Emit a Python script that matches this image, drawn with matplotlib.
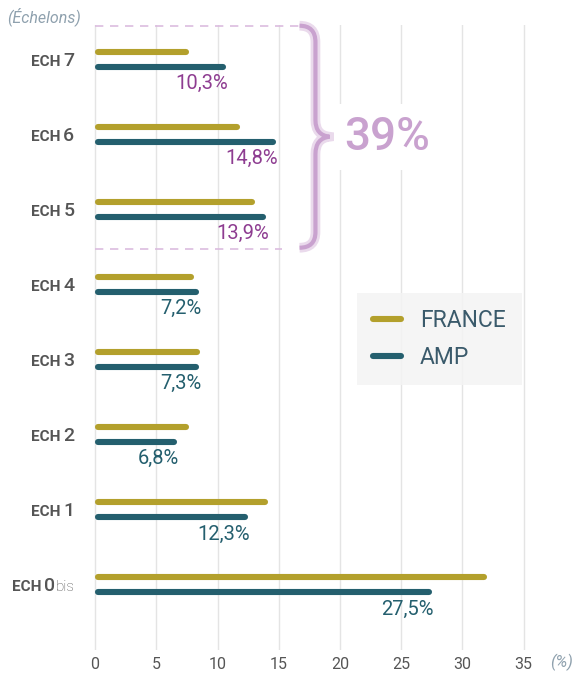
import matplotlib
matplotlib.use("Agg")
import matplotlib.pyplot as plt
from matplotlib.lines import Line2D
from matplotlib.path import Path
from matplotlib.patches import PathPatch
from matplotlib.transforms import offset_copy

plt.rcParams['font.family'] = ['Roboto', 'DejaVu Sans']

# donnees (de ECH 0bis a ECH 7)
echelons = ['0', '1', '2', '3', '4', '5', '6', '7']
suffixes = ['bis', '', '', '', '', '', '', '']
france = [32.0, 14.1, 7.7, 8.6, 8.1, 13.1, 11.8, 7.7]
amp = [27.5, 12.5, 6.7, 8.5, 8.5, 14.0, 14.8, 10.7]
amp_labels = ['27,5%', '12,3%', '6,8%', '7,3%', '7,2%', '13,9%', '14,8%', '10,3%']
groupe_haut = ['5', '6', '7']   # echelons regroupes dans l'accolade
total_haut = '39%'
xticks = [0, 5, 10, 15, 20, 25, 30, 35]

c_france = '#b3a02c'
c_amp = '#245f6e'
c_violet = '#8e3d91'
c_lilas = '#c9a2cf'
c_gris = '#555555'
c_note = '#8fa1ae'

fig = plt.figure(figsize=(5.72, 6.73), dpi=100)
ax = fig.add_axes([0.1556, 0.0342, 0.8025, 0.9287])
ax.set_xlim(-0.5, 37)
ax.set_ylim(-0.873, 7.46)

for s in ax.spines.values():
    s.set_visible(False)
ax.set_xticks(xticks)
ax.set_yticks([])
ax.tick_params(axis='x', length=0, pad=5, labelsize=11.5, labelcolor=c_gris)
ax.grid(axis='x', color='#e4e4e4', linewidth=1)
ax.set_axisbelow(True)

lw = 4.4
cap = 0.25  # demi-epaisseur du trait en unites x
dy = 0.094
for i in range(len(echelons)):
    ax.plot([cap, france[i] - cap], [i + dy, i + dy], color=c_france, lw=lw,
            solid_capstyle='round', zorder=3)
    ax.plot([cap, amp[i] - cap], [i - dy, i - dy], color=c_amp, lw=lw,
            solid_capstyle='round', zorder=3)
    col = c_violet if echelons[i] in groupe_haut else c_amp
    ax.annotate(amp_labels[i], xy=(amp[i], i - dy), xytext=(1.5, -12.5),
                textcoords='offset points', ha='right', va='center',
                fontsize=14.5, color=col, zorder=4)

# etiquettes des echelons: "ECH" + chiffre (+ "bis")
fig.canvas.draw()
renderer = fig.canvas.get_renderer()
ytrans = ax.get_yaxis_transform()
for i in range(len(echelons)):
    morceaux = [('ECH', 11, 'semibold', 0)]
    morceaux.append((echelons[i], 14, 'medium', 2))
    if suffixes[i]:
        morceaux.append((suffixes[i], 11, 'light', 0.3))
    x_off = -10.5
    gap_next = 0
    for txt, size, weight, gap in reversed(morceaux):
        x_off -= gap_next
        t = ax.text(0, i, txt, ha='right', va='baseline', fontsize=size,
                    fontweight=weight, color=c_gris,
                    transform=offset_copy(ytrans, fig, x=x_off, y=-4.5, units='points'))
        w = t.get_window_extent(renderer).width * 72 / fig.dpi
        x_off -= w
        gap_next = gap

# accolade regroupant ECH 5 a 7
ax.hlines([7.44, 4.47], 0, [16.7, 15.3], colors='#dbbcdf', linestyles=(0, (5, 4)),
          lw=1.2, clip_on=False, zorder=2)
verts = [(16.7, 7.45), (18.0, 7.45), (18.0, 7.23),
         (18.0, 6.19),
         (18.0, 5.99), (19.15, 5.97),
         (18.0, 5.95), (18.0, 5.74),
         (18.0, 4.70),
         (18.0, 4.49), (16.7, 4.49)]
codes = [Path.MOVETO, Path.CURVE3, Path.CURVE3, Path.LINETO,
         Path.CURVE3, Path.CURVE3, Path.CURVE3, Path.CURVE3,
         Path.LINETO, Path.CURVE3, Path.CURVE3]
brace = Path(verts, codes)
ax.add_patch(PathPatch(brace, facecolor='none', edgecolor='#eadaec', lw=7,
                       clip_on=False, zorder=2))
ax.add_patch(PathPatch(brace, facecolor='none', edgecolor=c_lilas, lw=3,
                       clip_on=False, zorder=3))
ax.text(23.9, 5.97, total_haut, ha='center', va='center', fontsize=33,
        fontweight='medium', color=c_lilas, zorder=4,
        bbox=dict(facecolor='white', edgecolor='none', pad=8))

# legende
handles = [Line2D([], [], color=c_france, lw=lw, solid_capstyle='round'),
           Line2D([], [], color=c_amp, lw=lw, solid_capstyle='round')]
leg = ax.legend(handles, ['FRANCE', 'AMP'], loc='upper left',
                bbox_to_anchor=(357 / 572, 1 - 293 / 673),
                bbox_transform=fig.transFigure, borderaxespad=0,
                fontsize=16.5, handlelength=1.2, handletextpad=0.85,
                labelspacing=0.6, borderpad=0.7, fancybox=False,
                framealpha=0.85, facecolor='#f4f4f4', edgecolor='none')
for t in leg.get_texts():
    t.set_color('#3a5a6b')

fig.text(7 / 572, 1 - 17 / 673, '(Échelons)', ha='left', va='center',
         fontsize=11.5, style='italic', color=c_note)
fig.text(550 / 572, 1 - 662 / 673, '(%)', ha='left', va='center',
         fontsize=12, style='italic', color=c_note)

fig.savefig('out.png', dpi=100)
